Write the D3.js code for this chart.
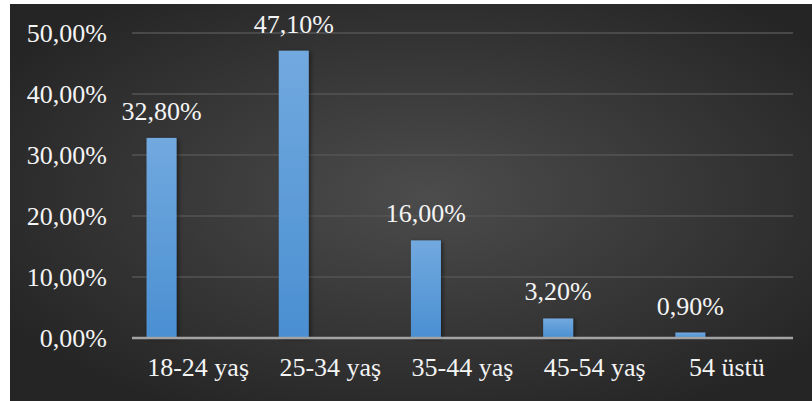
<!DOCTYPE html>
<html>
<head>
<meta charset="utf-8">
<script src="https://cdn.jsdelivr.net/npm/d3@7"></script>
<style>
  html, body { margin: 0; padding: 0; background: #fff; }
  svg { display: block; }
  text { font-family: "Liberation Serif", "Times New Roman", serif; fill: #f4f4f4; }
</style>
</head>
<body>
<svg id="chart" width="812" height="401"></svg>
<script>
// age groups and their shares (percent)
const categories = ['18-24 yaş', '25-34 yaş', '35-44 yaş', '45-54 yaş', '54 üstü'];
const values = [32.8, 47.1, 16.0, 3.2, 0.9];
const yTicks = [0, 10, 20, 30, 40, 50];

const fmt = v => v.toFixed(2).replace('.', ',') + '%';

const svg = d3.select('#chart');
const width = 812, height = 401;

// dark radial background like the office chart style
const defs = svg.append('defs');
const bg = defs.append('radialGradient').attr('id', 'bg')
    .attr('cx', '52%').attr('cy', '48%').attr('r', '62%');
bg.append('stop').attr('offset', '0%').attr('stop-color', '#4c4c4c');
bg.append('stop').attr('offset', '100%').attr('stop-color', '#252525');

const barGrad = defs.append('linearGradient').attr('id', 'barGrad')
    .attr('x1', 0).attr('y1', 0).attr('x2', 0).attr('y2', 1);
barGrad.append('stop').attr('offset', '0%').attr('stop-color', '#72a9df');
barGrad.append('stop').attr('offset', '100%').attr('stop-color', '#4a8fd2');

const shadow = defs.append('filter').attr('id', 'shadow')
    .attr('x', '-30%').attr('y', '-10%').attr('width', '160%').attr('height', '130%');
shadow.append('feDropShadow').attr('dx', 2).attr('dy', 1).attr('stdDeviation', 2)
    .attr('flood-color', '#000').attr('flood-opacity', 0.45);

svg.append('rect')
    .attr('x', 10).attr('y', 4)
    .attr('width', width - 10).attr('height', height - 4)
    .attr('fill', 'url(#bg)');

const margin = {top: 33, right: 19, bottom: 63, left: 132};
const plotW = width - margin.left - margin.right;
const plotH = height - margin.top - margin.bottom;

const g = svg.append('g').attr('transform', `translate(${margin.left},${margin.top})`);

const x = d3.scaleBand().domain(categories).range([0, plotW]).padding(0);
const y = d3.scaleLinear().domain([0, 50]).range([plotH, 0]);

// horizontal gridlines
g.selectAll('.grid').data(yTicks.filter(t => t > 0)).enter()
    .append('line')
    .attr('x1', 0).attr('x2', plotW)
    .attr('y1', d => y(d)).attr('y2', d => y(d))
    .attr('stroke', '#545454').attr('stroke-width', 1.5);

// y axis labels
const yAxis = g.append('g')
    .call(d3.axisLeft(y).tickValues(yTicks).tickFormat(fmt).tickSize(0).tickPadding(25));
yAxis.select('.domain').remove();
yAxis.selectAll('text')
    .attr('font-size', 26)
    .attr('fill', '#f4f4f4')
    .attr('font-family', '"Liberation Serif", "Times New Roman", serif');

// bars sit in the left part of each category slot
const barW = x.bandwidth() * 0.227;
const barOff = x.bandwidth() * 0.11;

g.selectAll('.bar').data(values).enter()
    .append('rect')
    .attr('class', 'bar')
    .attr('x', (d, i) => x(categories[i]) + barOff)
    .attr('y', d => y(d))
    .attr('width', barW)
    .attr('height', d => plotH - y(d))
    .attr('fill', 'url(#barGrad)')
    .attr('filter', 'url(#shadow)');

// baseline
g.append('line')
    .attr('x1', 0).attr('x2', plotW)
    .attr('y1', y(0)).attr('y2', y(0))
    .attr('stroke', '#a3a3a3').attr('stroke-width', 2.5);

// value labels
g.selectAll('.val').data(values).enter()
    .append('text')
    .attr('x', (d, i) => x(categories[i]) + barOff + barW / 2)
    .attr('y', d => y(d) - 18)
    .attr('text-anchor', 'middle')
    .attr('font-size', 26)
    .text(fmt);

// category labels
const xAxis = g.append('g')
    .attr('transform', `translate(0,${plotH})`)
    .call(d3.axisBottom(x).tickSize(0).tickPadding(20));
xAxis.select('.domain').remove();
xAxis.selectAll('text')
    .attr('font-size', 26)
    .attr('fill', '#f4f4f4')
    .attr('font-family', '"Liberation Serif", "Times New Roman", serif');
</script>
</body>
</html>
